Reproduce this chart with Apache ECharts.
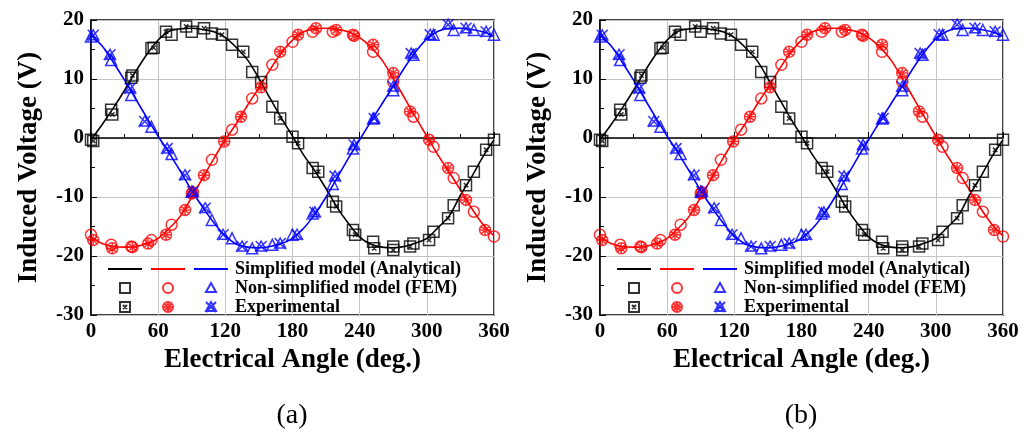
<!DOCTYPE html>
<html>
<head>
<meta charset="utf-8">
<script src="https://cdn.jsdelivr.net/npm/echarts@6/dist/echarts.min.js"></script>
<style>
  html, body { margin: 0; padding: 0; background: #fff; }
  #chart { width: 1036px; height: 443px; }
</style>
</head>
<body>
<div id="chart"></div>
<script>
'use strict';

/** analytical curves, every 10 deg */
var lineAngles = [0, 10, 20, 30, 40, 50, 60, 70, 80, 90, 100, 110, 120, 130, 140, 150, 160, 170, 180,
    190, 200, 210, 220, 230, 240, 250, 260, 270, 280, 290, 300, 310, 320, 330, 340, 350, 360];
var blackLine = [-0.3, 2.3, 5.1, 8.1, 11.3, 14.2, 16.6, 18.1, 18.5, 18.6, 18.4, 18.0, 17.0, 15.3, 13.2, 10.1, 6.7, 3.4, 0.3,
    -2.9, -5.6, -8.6, -11.8, -14.5, -16.8, -18.0, -18.5, -18.6, -18.4, -17.8, -17.0, -15.2, -13.2, -9.7, -6.6, -3.2, -0.3];
var redLine = [-16.8, -17.9, -18.4, -18.5, -18.4, -17.9, -17.0, -15.3, -13.2, -10.0, -6.7, -3.4, -0.3, 2.5, 5.6, 8.5, 11.6, 14.4, 16.6,
    18.0, 18.5, 18.6, 18.4, 18.0, 17.0, 15.4, 13.2, 10.1, 6.8, 3.5, 0.3, -2.9, -5.8, -8.8, -11.9, -14.6, -16.6];
var blueLine = [17.4, 15.6, 12.8, 9.8, 6.6, 3.4, 0.3, -2.6, -5.7, -8.9, -11.8, -14.4, -16.6, -18.0, -18.5, -18.6, -18.4, -17.9, -17.0,
    -15.3, -12.9, -10.0, -6.7, -3.4, -0.3, 2.8, 5.8, 8.8, 11.9, 14.6, 16.8, 18.1, 18.6, 18.6, 18.4, 18.0, 17.3];

/** FEM points */
var femAngles = [0, 18, 36, 54, 72, 90, 108, 126, 144, 162, 180, 198, 216, 234, 252, 270, 288, 306, 324, 342, 360];
var blackFem = [-0.3, 4.8, 10.2, 15.2, 17.5, 18.0, 17.7, 15.8, 11.2, 5.3, 0.2, -5.1, -10.8, -15.6, -17.6, -18.4, -17.9, -15.9, -11.4, -5.7, -0.3];
var redFem = [-16.4, -18.1, -18.4, -17.3, -14.7, -9.4, -3.7, 1.4, 6.7, 12.4, 16.3, 18.0, 18.0, 17.5, 14.6, 9.5, 3.6, -1.5, -6.8, -12.5, -16.7];
var blueFem = [17.2, 13.2, 7.3, 1.9, -2.7, -9.1, -13.9, -17.0, -18.7, -18.1, -16.4, -12.8, -7.8, -1.8, 3.3, 8.1, 14.1, 17.5, 18.3, 18.3, 17.5];

/** experimental points */
var blackExpAngles = [2, 19, 37, 56, 67, 85, 101, 117, 136, 152, 169, 185, 203, 219, 236, 253, 270, 285, 302, 319, 335, 353];
var blackExp = [-0.5, 4.0, 10.6, 15.3, 18.0, 18.9, 18.6, 17.5, 14.6, 9.5, 3.3, -0.9, -5.7, -11.6, -16.4, -18.7, -19.0, -18.4, -17.3, -13.6, -8.0, -2.0];
var redExpAngles = [2, 19, 37, 51, 67, 84, 91, 101, 119, 134, 152, 169, 185, 201, 219, 235, 252, 270, 285, 302, 319, 335, 352];
var redExp = [-17.3, -18.7, -18.5, -17.9, -16.4, -12.2, -9.2, -6.3, -0.6, 3.6, 8.6, 14.6, 17.5, 18.6, 18.3, 17.3, 15.8, 11.0, 4.5, -0.3, -5.1, -10.5, -15.6];
var blueExpAngles = [2, 17, 35, 48, 68, 84, 91, 102, 118, 135, 152, 169, 184, 200, 218, 235, 253, 270, 286, 303, 319, 335, 353];
var blueExp = [17.4, 14.1, 8.4, 2.8, -1.8, -6.3, -9.1, -11.9, -16.4, -18.4, -18.4, -17.9, -16.4, -12.6, -6.5, -1.2, 3.3, 8.7, 14.3, 17.5, 19.2, 18.6, 18.0];

var xTicks = [0, 60, 120, 180, 240, 300, 360];
var yTicks = [-30, -20, -10, 0, 10, 20];

var legendText = {
    lineB: 'Simplified model (Analytical)',
    femB: 'Non-simplified model (FEM)',
    expB: 'Experimental'
};

var FONT = "'Liberation Serif', 'Times New Roman', serif";
var BLACK = '#000000', RED = '#ff0000', BLUE = '#0000ff';

// marker shapes (scatter)
var SQUARE = 'M0,0H10V10H0Z';
var CIRCLE = 'M5,0A5,5 0 1,1 5,10A5,5 0 1,1 5,0Z';
var TRIANGLE = 'M5,0L10,9L0,9Z';
var SQUARE_X = 'M0,0H10V10H0Z M3,3L7,7M7,3L3,7';
var CIRCLE_X = 'M5,0A5,5 0 1,1 5,10A5,5 0 1,1 5,0Z M1.5,1.5L8.5,8.5M8.5,1.5L1.5,8.5M5,0L5,10M0,5L10,5';
var TRIANGLE_X = 'M5,0L10,9L0,9Z M0,0L10,10M10,0L0,10';
var DASH = 'M0,4H34V6H0Z';

// legend icons: same shape inside a fixed 34x10 box so every item has the same width
function boxIcon(shape, dx) {
    var moved = shape.replace(/([MLHA])([\d.\s,-]+)/g, function (m, cmd, args) {
        var n = args.trim().split(/[\s,]+/).map(Number);
        if (cmd === 'H') { return 'H' + (n[0] + dx); }
        if (cmd === 'A') { n[5] += dx; return 'A' + n.slice(0, 3).join(',') + ' ' + n[3] + ',' + n[4] + ' ' + n[5] + ',' + n[6]; }
        return cmd + (n[0] + dx) + ',' + n[1];
    });
    return 'path://M0,0M34,10' + moved;
}

function zip(xs, ys) {
    return xs.map(function (x, i) { return [x, ys[i]]; });
}

var chart = echarts.init(document.getElementById('chart'));

var panels = [{ left: 91, caption: '(a)' }, { left: 600, caption: '(b)' }];
var grids = [], xAxes = [], yAxes = [], series = [], legends = [], titles = [];
var legendIcons = {};

function addLine(idx, name, color, data) {
    series.push({
        name: name, type: 'line', xAxisIndex: idx, yAxisIndex: idx,
        data: zip(lineAngles, data), symbol: 'none', smooth: 0.3, z: 2,
        itemStyle: { color: color },
        lineStyle: { color: color, width: 1.6 }
    });
    legendIcons[name] = boxIcon(DASH, 0);
}

function addPoints(idx, name, color, shape, xs, ys) {
    series.push({
        name: name, type: 'scatter', xAxisIndex: idx, yAxisIndex: idx,
        data: zip(xs, ys), symbol: 'path://' + shape, symbolSize: 11, z: 3,
        itemStyle: { color: 'rgba(0,0,0,0)', borderColor: color, borderWidth: 1.5 }
    });
    legendIcons[name] = boxIcon(shape, 12);
}

panels.forEach(function (p, i) {
    grids.push({
        left: p.left, top: 20, width: 403, height: 295,
        show: true, borderColor: '#000', borderWidth: 1.5
    });
    xAxes.push({
        gridIndex: i, type: 'value', min: xTicks[0], max: xTicks[xTicks.length - 1], interval: 60,
        name: 'Electrical Angle (deg.)', nameLocation: 'middle', nameGap: 32,
        nameTextStyle: { fontFamily: FONT, fontWeight: 'bold', fontSize: 27, color: '#000' },
        axisLine: { lineStyle: { color: '#000', width: 1.5 } },
        axisTick: { inside: true, length: 6, lineStyle: { color: '#000' } },
        minorTick: { show: true, splitNumber: 2, length: 4, lineStyle: { color: '#000' } },
        axisLabel: { fontFamily: FONT, fontWeight: 'bold', fontSize: 21, color: '#000', margin: 6 },
        splitLine: { show: true, lineStyle: { color: '#c4c4c4', width: 1 } }
    });
    yAxes.push({
        gridIndex: i, type: 'value', min: yTicks[0], max: yTicks[yTicks.length - 1], interval: 10,
        name: 'Induced Voltage (V)', nameLocation: 'middle', nameGap: 48,
        nameTextStyle: { fontFamily: FONT, fontWeight: 'bold', fontSize: 27, color: '#000' },
        axisLine: { lineStyle: { color: '#000', width: 1.5 } },
        axisTick: { inside: true, length: 6, lineStyle: { color: '#000' } },
        minorTick: { show: true, splitNumber: 2, length: 4, lineStyle: { color: '#000' } },
        axisLabel: { fontFamily: FONT, fontWeight: 'bold', fontSize: 21, color: '#000', margin: 7 },
        splitLine: { show: true, lineStyle: { color: '#c4c4c4', width: 1 } }
    });

    addLine(i, 'lineK', BLACK, blackLine);
    addLine(i, 'lineR', RED, redLine);
    addLine(i, 'lineB', BLUE, blueLine);
    addPoints(i, 'femK', BLACK, SQUARE, femAngles, blackFem);
    addPoints(i, 'femR', RED, CIRCLE, femAngles, redFem);
    addPoints(i, 'femB', BLUE, TRIANGLE, femAngles, blueFem);
    addPoints(i, 'expK', BLACK, SQUARE_X, blackExpAngles, blackExp);
    addPoints(i, 'expR', RED, CIRCLE_X, redExpAngles, redExp);
    addPoints(i, 'expB', BLUE, TRIANGLE_X, blueExpAngles, blueExp);

    // legend: three rows inside the plot (marker rows are 2px wider because of the stroke)
    [['lineK', 'lineR', 'lineB'], ['femK', 'femR', 'femB'], ['expK', 'expR', 'expB']].forEach(function (row, r) {
        legends.push({
            left: p.left + (r === 0 ? 17 : 16), top: 260 + r * 19, padding: 0,
            itemWidth: 34, itemHeight: 10, itemGap: r === 0 ? 9 : 7,
            selectedMode: false, symbolKeepAspect: true,
            data: row.map(function (n) { return { name: n, icon: legendIcons[n] }; }),
            formatter: function (n) { return legendText[n] ? '{s|}' + legendText[n] : ''; },
            textStyle: {
                fontFamily: FONT, fontWeight: 'bold', fontSize: 18, color: '#000',
                rich: { s: { width: 2 } }
            }
        });
    });

    titles.push({
        text: p.caption, left: p.left + 201, top: 402, padding: 0, textAlign: 'center',
        textStyle: { fontFamily: FONT, fontWeight: 'normal', fontSize: 28, color: '#000' }
    });
});

chart.setOption({
    backgroundColor: '#fff',
    animation: false,
    title: titles,
    legend: legends,
    grid: grids,
    xAxis: xAxes,
    yAxis: yAxes,
    series: series
});
</script>
</body>
</html>
